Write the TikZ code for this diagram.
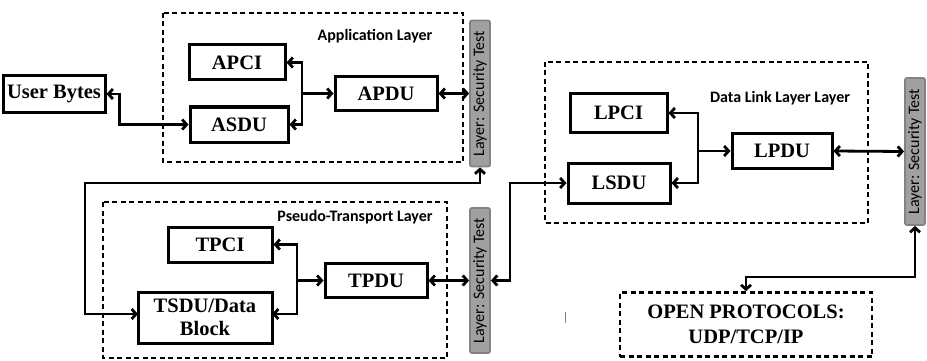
\documentclass[tikz,border=0pt]{standalone}
\usepackage{fontspec}
\setmainfont{Liberation Serif}
\newfontfamily\calfont{Carlito}
\usetikzlibrary{arrows.meta}
\definecolor{barfill}{RGB}{160,160,160}
\definecolor{bardraw}{RGB}{130,130,130}
\begin{document}
\begin{tikzpicture}[x=1pt,y=-1pt,
  pdu/.style={draw, line width=3pt, rectangle, inner sep=0pt, font=\fontsize{20.5}{23}\selectfont\bfseries, align=center},
  layerbox/.style={draw, line width=2.6pt, dash pattern=on 5pt off 3.5pt},
  secbar/.style={draw=bardraw, fill=barfill, line width=1.8pt, rounded corners=2pt, minimum width=20pt, inner sep=0pt},
  sectext/.style={font=\calfont\fontsize{16}{17}\selectfont, rotate=90},
  lbl/.style={font=\calfont\bfseries\fontsize{16}{18}\selectfont},
  conn/.style={line width=2.8pt, >={Straight Barb[length=4.5pt,width=10pt]}}
]
\useasboundingbox (0,0) rectangle (927,361);

% ---------- layer boxes ----------
\draw[layerbox] (163,13) rectangle (463,162);
\draw[layerbox] (103,202) rectangle (447,358);
\draw[layerbox] (545,62) rectangle (868,223);
\node[layerbox, rectangle, minimum width=252pt, minimum height=64pt, inner sep=0pt,
      font=\fontsize{20.5}{25}\selectfont\bfseries, align=center] (op) at (746,324.5)
      {OPEN PROTOCOLS:\\UDP/TCP/IP};

% ---------- labels ----------
\node[lbl] (lapp) at (375,36) {Application Layer};
\node[lbl] (ltr) at (355,217) {Pseudo-Transport Layer};
\node[lbl] (ldl) at (780,98) {Data Link Layer Layer};

% ---------- security bars ----------
\node[secbar, minimum height=146pt] (bar1) at (480,93.5) {};
\node[sectext] at (bar1) {Layer: Security Test};
\node[secbar, minimum height=145pt] (bar2) at (480,280.5) {};
\node[sectext] at (bar2) {Layer: Security Test};
\node[secbar, minimum height=147pt] (bar3) at (915,151.5) {};
\node[sectext] at (bar3) {Layer: Security Test};

% ---------- application layer ----------
\node[pdu, minimum width=102pt, minimum height=36pt] (ub) at (54,94) {User Bytes};
\node[pdu, minimum width=96pt, minimum height=35pt] (apci) at (237,62.5) {APCI};
\node[pdu, minimum width=98pt, minimum height=35pt] (asdu) at (239,124.5) {ASDU};
\node[pdu, minimum width=102pt, minimum height=34pt] (apdu) at (386,93.5) {APDU};
\coordinate (j1) at (302,93.5);

% ---------- transport layer ----------
\node[pdu, minimum width=104pt, minimum height=35pt] (tpci) at (220,244.5) {TPCI};
\node[pdu, minimum width=102pt, minimum height=34pt] (tpdu) at (376,280.5) {TPDU};
\node[pdu, minimum width=134pt, minimum height=51pt] (tsdu) at (205,317.5) {TSDU/Data\\Block};
\coordinate (j2) at (297,280.5);
\coordinate (c1) at (85,183);
\coordinate (t1) at (138,314);
\coordinate (t2) at (272,314);

% ---------- data link layer ----------
\node[pdu, minimum width=97pt, minimum height=38pt] (lpci) at (618.5,113) {LPCI};
\node[pdu, minimum width=102pt, minimum height=40pt] (lsdu) at (619,183) {LSDU};
\node[pdu, minimum width=100pt, minimum height=35pt] (lpdu) at (782,151) {LPDU};
\coordinate (j3) at (698,151);
\coordinate (c2) at (510,183);
\coordinate (c3) at (915,277);

% ---------- connectors ----------
\draw[conn,<->] (ub.east) -- ++(13,0) |- (asdu.west);
\draw[conn,->] (j1) |- (apci.east);
\draw[conn,->] (j1) |- (asdu.east);
\draw[conn,->] (j1) -- (apdu.west);
\draw[conn,<->] (apdu.east) -- (bar1.west);

\draw[conn,<->] (bar1.south) |- (c1) |- (t1);
\draw[conn,->] (j2) |- (tpci.east);
\draw[conn,->] (j2) |- (t2);
\draw[conn,->] (j2) -- (tpdu.west);
\draw[conn,<->] (tpdu.east) -- (bar2.west);

\draw[conn,<->] (bar2.east) -| (c2) -- (lsdu.west);
\draw[conn,->] (j3) |- (lpci.east);
\draw[conn,->] (j3) |- (lsdu.east);
\draw[conn,->] (j3) -- (lpdu.west);
\draw[conn,<->] (lpdu.east) -- (bar3.west);

\draw[conn,<->] (bar3.south) -- (c3) -| (op.north);

% stray tick
\draw[gray, line width=1pt] (565,312) -- (565,323);
\end{tikzpicture}
\end{document}
